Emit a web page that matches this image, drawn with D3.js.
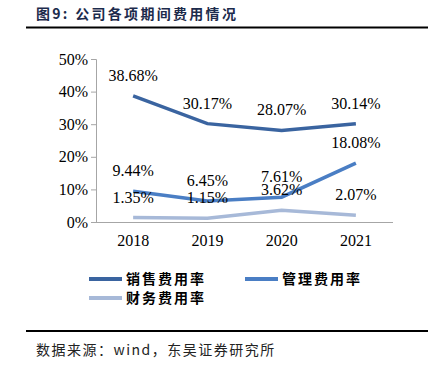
<!DOCTYPE html>
<html>
<head>
<meta charset="UTF-8">
<script src="https://d3js.org/d3.v7.min.js"></script>
<style>
  body { margin: 0; background: #fff; }
</style>
</head>
<body>
<svg></svg>
<script>
let width = 440, height = 365;

let years = ["2018", "2019", "2020", "2021"];
let seriesNames = ["销售费用率", "管理费用率", "财务费用率"];
let sales = [38.68, 30.17, 28.07, 30.14];
let admin = [9.44, 6.45, 7.61, 18.08];
let finance = [1.35, 1.15, 3.62, 2.07];
let yTicks = [0, 10, 20, 30, 40, 50];
let colors = ["#3a64a0", "#4a7ec4", "#a7b9d8"];

let serif = "'Liberation Serif', 'Times New Roman', 'DejaVu Serif', serif";
let cjk = "'Noto Sans CJK SC', sans-serif";

let svg = d3.select("svg").attr("width", width).attr("height", height);

// title + rules
svg.append("text")
  .attr("x", 36).attr("y", 19)
  .style("font-family", cjk).style("font-size", "14px").style("font-weight", "bold")
  .attr("letter-spacing", 2.3)
  .attr("fill", "#1c2b4c")
  .text("图9:  公司各项期间费用情况");
svg.append("line").attr("x1", 26).attr("x2", 428).attr("y1", 27.5).attr("y2", 27.5)
  .attr("stroke", "#000").attr("stroke-width", 2);
svg.append("line").attr("x1", 26).attr("x2", 428).attr("y1", 331).attr("y2", 331)
  .attr("stroke", "#000").attr("stroke-width", 2);
svg.append("text")
  .attr("x", 36).attr("y", 355)
  .style("font-family", cjk).style("font-size", "14px")
  .attr("letter-spacing", 1.5)
  .attr("fill", "#222")
  .text("数据来源：wind，东吴证券研究所");

let x = d3.scaleBand().domain(years).range([96, 393]);
let y = d3.scaleLinear().domain([0, 50]).range([222, 59]);

// y axis
let gy = svg.append("g").attr("transform", "translate(96,0)")
  .call(d3.axisLeft(y).tickValues(yTicks).tickSize(5).tickFormat(d => d + "%"));
gy.select(".domain").attr("stroke", "#a6a6a6").attr("d", "M-5,59.5H0.5V222.5H-5");
gy.selectAll(".tick line").attr("stroke", "#a6a6a6");
gy.selectAll(".tick text").style("font-family", serif).style("font-size", "16px")
  .attr("fill", "#000").attr("x", -8);

// x axis
let gx = svg.append("g").attr("transform", "translate(0,222)")
  .call(d3.axisBottom(x).tickSize(0));
gx.select(".domain").attr("stroke", "#a6a6a6").attr("d", "M96,0.5H393");
gx.selectAll(".tick text").style("font-family", serif).style("font-size", "16px")
  .attr("fill", "#000").attr("dy", "1.3em");

let cx = d => x(d) + x.bandwidth() / 2;
let line = d3.line().x((d, i) => cx(years[i])).y(d => y(d));

[finance, admin, sales].forEach((s, k) => {
  let c = colors[2 - k];
  svg.append("path").datum(s).attr("d", line)
    .attr("fill", "none").attr("stroke", c).attr("stroke-width", 3.5);
});

[sales, admin, finance].forEach(s => {
  svg.append("g").selectAll("text").data(s).join("text")
    .attr("x", (d, i) => cx(years[i]))
    .attr("y", d => y(d) - 15)
    .attr("text-anchor", "middle")
    .style("font-family", serif).style("font-size", "16px")
    .attr("fill", "#000")
    .text(d => d.toFixed(2) + "%");
});

// legend
let legendPos = [[89, 279], [245, 279], [89, 298]];
seriesNames.forEach((n, i) => {
  let [lx, ly] = legendPos[i];
  svg.append("line").attr("x1", lx).attr("x2", lx + 33).attr("y1", ly).attr("y2", ly)
    .attr("stroke", colors[i]).attr("stroke-width", 4);
  svg.append("text")
    .attr("x", lx + 37).attr("y", ly + 5)
    .style("font-family", cjk).style("font-size", "14px").style("font-weight", "bold")
    .attr("letter-spacing", 2)
    .attr("fill", "#000").text(n);
});
</script>
</body>
</html>
